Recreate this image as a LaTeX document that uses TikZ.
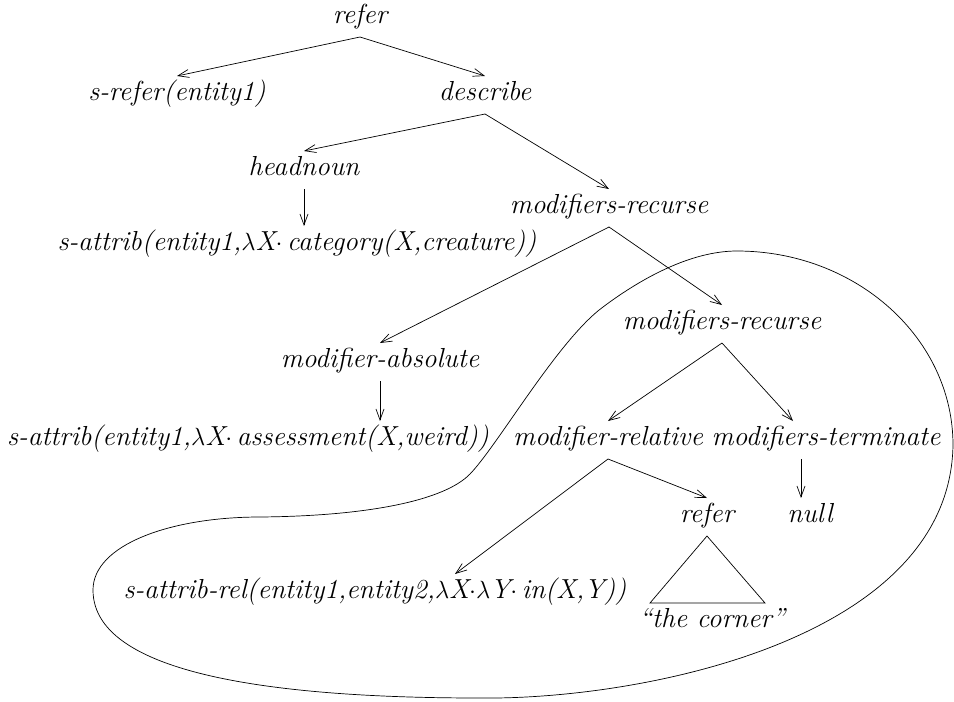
\documentclass[tikz,border=0pt]{standalone}
\usetikzlibrary{arrows.meta}
\begin{document}
\begin{tikzpicture}[x=1pt,y=-1pt,
    lbl/.style={font=\fontsize{27.5}{33}\selectfont\itshape, inner sep=0pt,
        text height=15pt, text depth=5pt, outer ysep=9pt},
    arr/.style={-{Straight Barb[length=11pt,width=8pt]}, line width=0.7pt}]
    \useasboundingbox (0,0) rectangle (954,702);
    %albero alto
    \node[lbl] (refer) at (360,18) {refer};
    \node[lbl] (srefer) at (177,95) {s-refer(entity1)};
    \node[lbl] (describe) at (485,95) {describe};
    \node[lbl] (headnoun) at (304,170) {headnoun};
    \node[lbl] (scat) at (297,245) {s-attrib(entity1,$\lambda$X$\cdot$\,category(X,creature))};
    \node[lbl] (mrec) at (609,208) {modifiers-recurse};
    %modificatori
    \node[lbl] (mabs) at (380,362) {modifier-absolute};
    \node[lbl] (sass) at (248,440) {s-attrib(entity1,$\lambda$X$\cdot$\,assessment(X,weird))};
    \node[lbl] (mrec2) at (722,324) {modifiers-recurse};
    \node[lbl] (mrel) at (608,440) {modifier-relative};
    \node[lbl] (mterm) at (826,440) {modifiers-terminate};
    \node[lbl] (refer2) at (707,517) {refer};
    \node[lbl] (null) at (810,517) {null};
    \node[lbl] (srel) at (375,593) {s-attrib-rel(entity1,entity2,$\lambda$X$\cdot\lambda$Y$\cdot$\,in(X,Y))};
    \node[lbl] (corner) at (712,622) {``the corner''};
    %frecce
    \draw[arr] (refer.south) -- (srefer.north);
    \draw[arr] (refer.south) -- (describe.north);
    \draw[arr] (describe.south) -- (headnoun.north);
    \draw[arr] (describe.south) -- (mrec.north);
    \draw[arr] (headnoun.south) -- (headnoun.south |- scat.north);
    \draw[arr] (mrec.south) -- (mabs.north);
    \draw[arr] (mrec.south) -- (mrec2.north);
    \draw[arr] (mabs.south) -- (mabs.south |- sass.north);
    \draw[arr] (mrec2.south) -- (mrel.north);
    \draw[arr] (mrec2.south) -- ([xshift=-33pt]mterm.north);
    \draw[arr] ([xshift=-25pt]mterm.south) -- ([xshift=-25pt]mterm.south |- null.north);
    \draw[arr] (mrel.south) -- (refer2.north);
    \draw[arr] (mrel.south) -- ([xshift=80pt]srel.north);
    %triangolo
    \draw[line width=0.7pt] (refer2.south) -- ++(-57,67) -- ++(115,0) -- cycle;
    %contorno
    \draw[line width=0.7pt] (737,251) .. controls (856,251) and (953,338) .. (953,445)
        .. controls (950,640) and (640,700) .. (480,698)
        .. controls (300,698) and (93,680) .. (93,590)
        .. controls (93,545) and (170,517) .. (260,517)
        .. controls (370,516) and (445,500) .. (470,474)
        .. controls (498,445) and (558,340) .. (603,307)
        .. controls (643,277) and (692,251) .. (737,251) -- cycle;
\end{tikzpicture}
\end{document}
